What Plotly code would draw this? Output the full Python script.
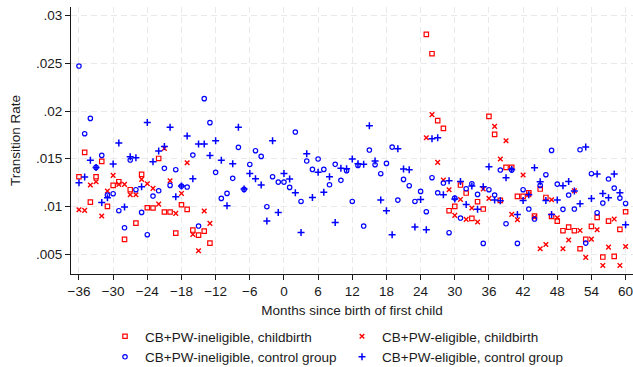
import plotly.graph_objects as go

# Event-time months
months_all = list(range(-36, 61))
months_childbirth = list(range(-36, -12)) + list(range(25, 61))

# CB+PW-ineligible, childbirth
inelig_cb = [0.01311, 0.01566, 0.01045, 0.01311, 0.01472, 0.01000, 0.01220, 0.01259,
             0.00654, 0.01175, 0.00825, 0.01336, 0.00986, 0.00983, 0.01503, 0.00941,
             0.00941, 0.00720, 0.01017, 0.00969, 0.00752, 0.00699, 0.00741, 0.00615,
             0.02804, 0.02601, 0.01899, 0.01818, 0.00955, 0.01000, 0.01224, 0.01140,
             0.00874, 0.01049, 0.00972, 0.01944, 0.01755, 0.01063, 0.01409, 0.01409,
             0.01105, 0.01105, 0.01143, 0.00899, 0.01182, 0.01094, 0.00895, 0.00846,
             0.00745, 0.00783, 0.00745, 0.00556, 0.00654, 0.00790, 0.00885, 0.00469,
             0.00846, 0.00476, 0.00759, 0.00944]

# CB+PW-eligible, childbirth
elig_cb = [0.00965, 0.00958, 0.01224, 0.01259, 0.00899, 0.01161, 0.01325, 0.01231,
           0.01231, 0.01122, 0.01122, 0.01283, 0.01238, 0.01189, 0.01024, 0.01608,
           0.01269, 0.00927, 0.01136, 0.01458, 0.00706, 0.00535, 0.00951, 0.00822,
           0.01720, 0.01962, 0.01462, 0.01276, 0.01175, 0.00906, 0.01073, 0.00864,
           0.00983, 0.00836, 0.01182, 0.01084, 0.01839, 0.01497, 0.01689, 0.00916,
           0.00860, 0.01329, 0.01122, 0.00885, 0.00556, 0.00601, 0.01070, 0.00881,
           0.00556, 0.00647, 0.01164, 0.00748, 0.00465, 0.00657, 0.00755, 0.00381,
           0.00573, 0.00867, 0.00381, 0.00580]

# CB+PW-ineligible, control group
inelig_ctrl = [0.02472, 0.01762, 0.01923, 0.01409, 0.01535, 0.01119, 0.01133, 0.00955,
               0.00776, 0.01486, 0.01175, 0.00937, 0.00703, 0.01108, 0.01164, 0.01399,
               0.01220, 0.01385, 0.01213, 0.01203, 0.01538, 0.00794, 0.02130, 0.01878,
               0.01357, 0.01084, 0.01136, 0.01294, 0.01619, 0.01178, 0.01440, 0.01584,
               0.01524, 0.00997, 0.01311, 0.01255, 0.01255, 0.01199, 0.01780, 0.01052,
               0.01476, 0.01388, 0.01497, 0.01388, 0.01227, 0.01441, 0.01273, 0.01374,
               0.01052, 0.01430, 0.00794, 0.01591, 0.01437, 0.01343, 0.01451, 0.01622,
               0.01066, 0.01283, 0.01217, 0.01052, 0.01157, 0.00944, 0.01301, 0.01143,
               0.01245, 0.00724, 0.01087, 0.00878, 0.01185, 0.01238, 0.01126, 0.00612,
               0.01175, 0.01119, 0.01381, 0.00818, 0.01381, 0.00612, 0.01175, 0.00972,
               0.00867, 0.01220, 0.01332, 0.01587, 0.01234, 0.00969, 0.01119, 0.00972,
               0.01594, 0.00615, 0.01343, 0.00934, 0.01035, 0.01287, 0.01192, 0.01087,
               0.01031]

# CB+PW-eligible, control group
elig_ctrl = [0.01248, 0.01308, 0.01483, 0.01409, 0.01042, 0.01091, 0.01444, 0.01664,
             0.00993, 0.01521, 0.01511, 0.01206, 0.01881, 0.01469, 0.01580, 0.01629,
             0.01829, 0.01101, 0.01213, 0.01738, 0.01290, 0.01654, 0.01654, 0.01535,
             0.01689, 0.01483, 0.01007, 0.01448, 0.01829, 0.01182, 0.01346, 0.01290,
             0.01224, 0.00846, 0.01689, 0.00937, 0.01346, 0.01287, 0.01143, 0.00727,
             0.01552, 0.01094, 0.01357, 0.01147, 0.01311, 0.00832, 0.01399, 0.01395,
             0.01497, 0.01448, 0.01441, 0.01846, 0.01476, 0.01066, 0.00955, 0.00703,
             0.01605, 0.01392, 0.01385, 0.00783, 0.01073, 0.00755, 0.01710, 0.01720,
             0.01122, 0.01269, 0.01077, 0.01262, 0.01021, 0.01213, 0.00969, 0.01206,
             0.01416, 0.01066, 0.01059, 0.01301, 0.01388, 0.00916, 0.01063, 0.01122,
             0.01406, 0.01259, 0.01063, 0.00916, 0.01066, 0.01217, 0.01262, 0.01161,
             0.01028, 0.01622, 0.01084, 0.01339, 0.01136, 0.01091, 0.01339, 0.01143,
             0.00808]

x_ticks = list(range(-36, 61, 6))
y_ticks = [0.005, 0.01, 0.015, 0.02, 0.025, 0.03]
y_tick_text = [".005", ".01", ".015", ".02", ".025", ".03"]

RED = "#ff0000"
BLUE = "#0000ff"
INK = "#1a1a1a"
FONT = "Liberation Sans, Arial, sans-serif"
FS = 13.5

fig = go.Figure()
fig.add_trace(go.Scatter(
    x=months_childbirth, y=inelig_cb, mode="markers",
    name="CB+PW-ineligible, childbirth",
    marker=dict(symbol="square-open", size=4.4, color=RED, line=dict(width=1.2, color=RED)),
))
fig.add_trace(go.Scatter(
    x=months_childbirth, y=elig_cb, mode="markers",
    name="CB+PW-eligible, childbirth",
    marker=dict(symbol="x-thin", size=4.6, color=RED, line=dict(width=1.4, color=RED)),
))
fig.add_trace(go.Scatter(
    x=months_all, y=inelig_ctrl, mode="markers",
    name="CB+PW-ineligible, control group",
    marker=dict(symbol="circle-open", size=4.4, color=BLUE, line=dict(width=1.2, color=BLUE)),
))
fig.add_trace(go.Scatter(
    x=months_all, y=elig_ctrl, mode="markers",
    name="CB+PW-eligible, control group",
    marker=dict(symbol="cross-thin", size=5, color=BLUE, line=dict(width=1.5, color=BLUE)),
))

grid = dict(showgrid=True, gridcolor="#e9e9e9", gridwidth=1, griddash="6px,4px")

fig.update_layout(
    width=633, height=367,
    margin=dict(l=71, r=0, t=7, b=93, autoexpand=False),
    paper_bgcolor="white", plot_bgcolor="white",
    font=dict(family=FONT, size=FS, color=INK),
    showlegend=True,
    legend=dict(
        orientation="h", x=0.0605, xanchor="left", y=-0.176, yanchor="top",
        entrywidth=192, entrywidthmode="pixels",
        font=dict(family=FONT, size=FS, color=INK),
        bgcolor="rgba(0,0,0,0)", borderwidth=0, tracegroupgap=0,
    ),
    xaxis=dict(
        range=[-37.4, 61.3], tickvals=x_ticks, ticks="outside", ticklen=5,
        tickwidth=1, tickcolor=INK, showline=True, linecolor=INK,
        linewidth=1, zeroline=False, tickfont=dict(size=FS),
        ticklabeloverflow="allow",
        title=dict(text="Months since birth of first child", standoff=7,
                   font=dict(size=FS)),
        **grid,
    ),
    yaxis=dict(
        range=[0.00291, 0.03091], tickvals=y_ticks, ticktext=y_tick_text,
        ticks="outside", ticklen=5, tickwidth=1, tickcolor=INK,
        showline=True, linecolor=INK, linewidth=1, zeroline=False,
        tickfont=dict(size=FS),
        title=dict(text="Transition Rate", standoff=12, font=dict(size=FS)),
        **grid,
    ),
)

fig.write_html("out.html")
